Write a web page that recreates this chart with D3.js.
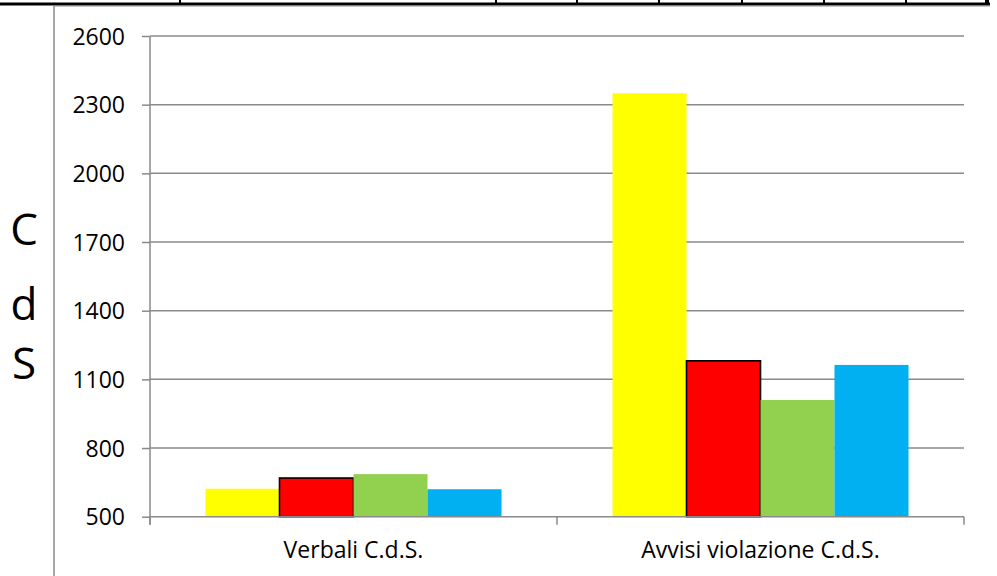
<!DOCTYPE html>
<html>
<head>
<meta charset="utf-8">
<script src="https://cdn.jsdelivr.net/npm/d3@7"></script>
<style>
  body { margin: 0; background: white; }
  text { font-family: "Open Sans", sans-serif; fill: #000; }
</style>
</head>
<body>
<script>
// data
const categories = ["Verbali C.d.S.", "Avvisi violazione C.d.S."];
const seriesNames = ["s1", "s2", "s3", "s4"];
const seriesColors = ["#ffff00", "#ff0000", "#92d050", "#00b0f0"];
const values = [
  [622, 2350],   // yellow
  [669, 1181],   // red
  [686, 1010],   // green
  [620, 1163]    // blue
];
const yTicks = [500, 800, 1100, 1400, 1700, 2000, 2300, 2600];
const yTitle = ["C", "d", "S"];

function drawChart() {
  let svg = d3.select("body").append("svg")
    .attr("width", 997)
    .attr("height", 576);

  // bits of the surrounding document table
  svg.append("line").attr("x1", 0).attr("x2", 990).attr("y1", 4).attr("y2", 4)
    .attr("stroke", "#000").attr("stroke-width", 3);
  [180, 496, 577, 659, 742, 824, 906, 987].forEach(x => {
    svg.append("line").attr("x1", x).attr("x2", x).attr("y1", 0).attr("y2", 4)
      .attr("stroke", "#000").attr("stroke-width", x === 987 ? 4 : 2);
  });
  // chart frame
  svg.append("line").attr("x1", 54).attr("x2", 990).attr("y1", 6.5).attr("y2", 6.5)
    .attr("stroke", "#c8c8c8").attr("stroke-width", 1.2);
  svg.append("line").attr("x1", 54).attr("x2", 54).attr("y1", 6).attr("y2", 576)
    .attr("stroke", "#8a8a8a").attr("stroke-width", 1.5);

  let left = 150, right = 964, top = 36, bottom = 516.7;

  let y = d3.scaleLinear().domain([500, 2600]).range([bottom, top]);
  let x0 = d3.scaleBand().domain(categories).range([left, right]);
  // Excel gap width 150% -> 4 bars + 1.5 bar of gap
  let bw = x0.bandwidth() / 5.5;

  // gridlines
  svg.append("g").selectAll("line")
    .data(yTicks.slice(1))
    .enter().append("line")
    .attr("x1", left).attr("x2", right)
    .attr("y1", d => y(d)).attr("y2", d => y(d))
    .attr("stroke", "#8a8a8a").attr("stroke-width", 1.5);

  // bars
  seriesNames.forEach((s, i) => {
    svg.append("g").selectAll("rect")
      .data(categories.map((c, j) => ({ c: c, v: values[i][j] })))
      .enter().append("rect")
      .attr("x", d => x0(d.c) + bw * 0.75 + i * bw)
      .attr("width", bw)
      .attr("y", d => y(d.v))
      .attr("height", d => bottom - y(d.v))
      .attr("fill", seriesColors[i])
      .attr("stroke", i === 1 ? "#000" : "none")
      .attr("stroke-width", i === 1 ? 1.6 : 0);
  });

  // y axis
  let yAxis = svg.append("g").attr("transform", `translate(${left},0)`)
    .call(d3.axisLeft(y).tickValues(yTicks).tickFormat(d3.format("d")).tickSize(8).tickPadding(17));
  yAxis.select(".domain").attr("d", `M0,${top}V${bottom + 8}`);
  yAxis.selectAll("line, .domain").attr("stroke", "#8a8a8a").attr("stroke-width", 1.5);
  yAxis.selectAll("text").style("font-size", "23px").style("font-family", "'Open Sans', sans-serif")
    .attr("fill", "#000").attr("dy", "0.36em");

  // x axis
  let xAxis = svg.append("g").attr("transform", `translate(0,${bottom})`);
  xAxis.append("line").attr("x1", left).attr("x2", right)
    .attr("stroke", "#8a8a8a").attr("stroke-width", 1.5);
  [left, x0(categories[1]), right].forEach(xx => {
    xAxis.append("line").attr("x1", xx).attr("x2", xx).attr("y1", 0).attr("y2", 8)
      .attr("stroke", "#8a8a8a").attr("stroke-width", 1.5);
  });
  xAxis.selectAll("text.cat")
    .data(categories)
    .enter().append("text")
    .attr("class", "cat")
    .attr("x", d => x0(d) + x0.bandwidth() / 2)
    .attr("y", 41.5)
    .attr("text-anchor", "middle")
    .style("font-size", "23px")
    .text(d => d);

  // stacked y title
  let baselines = [245, 320, 379];
  svg.selectAll("text.ytitle")
    .data(yTitle)
    .enter().append("text")
    .attr("class", "ytitle")
    .attr("x", 24)
    .attr("y", (d, i) => baselines[i])
    .attr("text-anchor", "middle")
    .style("font-size", "44px")
    .text(d => d);
}

document.addEventListener("DOMContentLoaded", drawChart);
</script>
</body>
</html>
